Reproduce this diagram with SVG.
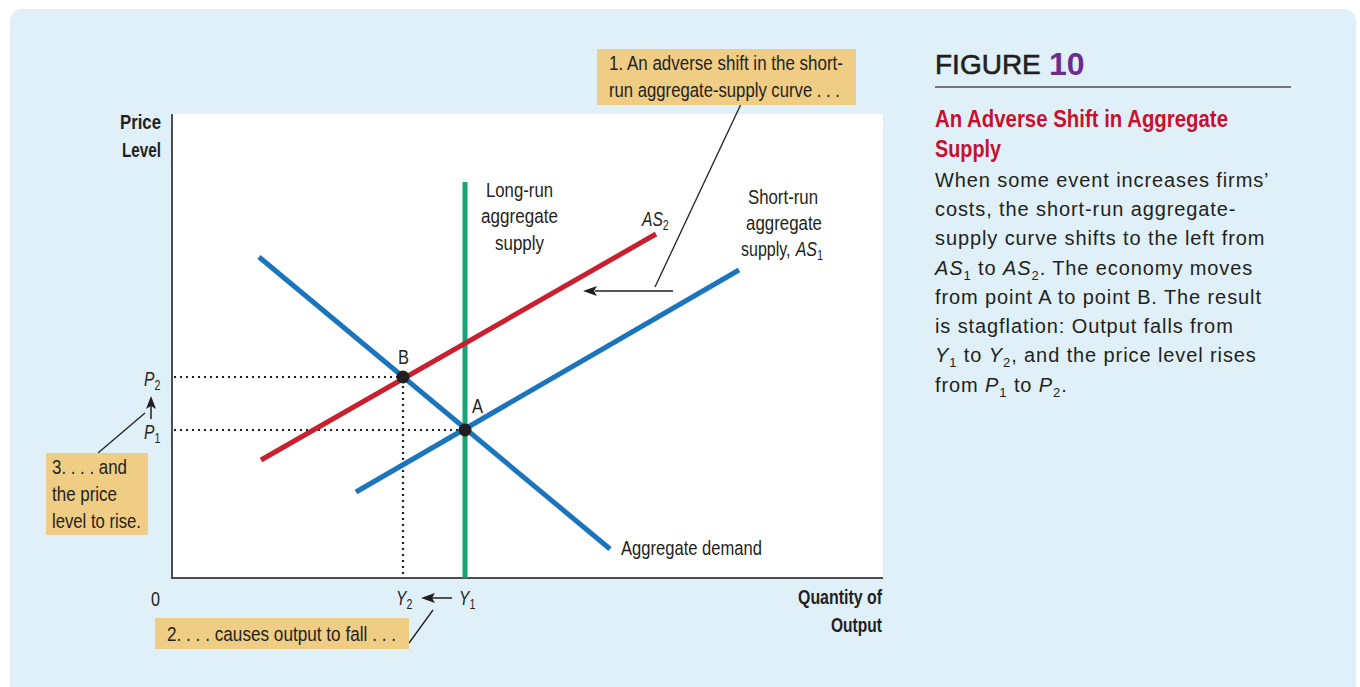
<svg xmlns="http://www.w3.org/2000/svg" width="1360" height="687" viewBox="0 0 1360 687">
<style>
.c{font-family:"Liberation Sans",Arial,sans-serif;fill:#231f20;font-size:20.5px}
.cb{font-weight:bold}
.b{font-family:"Liberation Sans",Arial,sans-serif;fill:#231f20;font-size:20px;letter-spacing:0.9px}
.i{font-style:italic}
.sub{font-size:14px;font-style:normal}
.box{fill:#f0cd85}
.lead{stroke:#231f20;stroke-width:1.3;fill:none}
.dot{stroke:#231f20;stroke-width:2.2;stroke-dasharray:2 4;fill:none}
</style>
<rect x="10" y="9" width="1346" height="690" rx="12" fill="#dff0f9"/>
<rect x="172" y="114" width="711" height="464" fill="#ffffff"/>
<g id="axes">
<path d="M172,114 V578 H883" stroke="#4d4d4f" stroke-width="2" fill="none"/>
</g>
<g id="connectors">
<path class="dot" d="M174,377 H403 M174,430 H465 M403,380 V578"/>
<line x1="673" y1="291" x2="595" y2="291" stroke="#231f20" stroke-width="1.5"/>
<path d="M583,291 L597,286 L594,291 L597,296 Z" fill="#231f20"/>
<line x1="151" y1="419" x2="151" y2="405" stroke="#231f20" stroke-width="1.5"/>
<path d="M151,396 L146,409 L151,406 L156,409 Z" fill="#231f20"/>
<line x1="452" y1="598" x2="432" y2="598" stroke="#231f20" stroke-width="1.5"/>
<path d="M421,598 L435,593 L432,598 L435,603 Z" fill="#231f20"/>
<path class="lead" d="M741,104 L655,287"/>
<path class="lead" d="M98,453 L145,413"/>
<path class="lead" d="M409,643 L433,610"/>
</g>
<g id="lras">
<line x1="465" y1="182" x2="465" y2="578" stroke="#17a673" stroke-width="5"/>
<text class="c" x="486" y="197" textLength="67" lengthAdjust="spacingAndGlyphs">Long-run</text>
<text class="c" x="481" y="223" textLength="77" lengthAdjust="spacingAndGlyphs">aggregate</text>
<text class="c" x="495" y="250" textLength="49" lengthAdjust="spacingAndGlyphs">supply</text>
</g>
<g id="ad">
<line x1="259" y1="257" x2="610" y2="549" stroke="#1a75bc" stroke-width="5"/>
<text class="c" x="621" y="555" textLength="141" lengthAdjust="spacingAndGlyphs">Aggregate demand</text>
</g>
<g id="as1">
<line x1="356" y1="492" x2="739" y2="270" stroke="#1a75bc" stroke-width="5"/>
<text class="c" x="748" y="204" textLength="70" lengthAdjust="spacingAndGlyphs">Short-run</text>
<text class="c" x="746" y="230" textLength="76" lengthAdjust="spacingAndGlyphs">aggregate</text>
<text class="c" transform="translate(741,256) scale(0.78,1)">supply, <tspan class="i" dx="1">AS</tspan><tspan class="sub" dy="4">1</tspan></text>
</g>
<g id="as2">
<line x1="261" y1="460" x2="656" y2="234" stroke="#c8202f" stroke-width="5"/>
<text class="c" transform="translate(642,226) scale(0.76,1)"><tspan class="i">AS</tspan><tspan class="sub" dy="4">2</tspan></text>
</g>
<g id="pointB">
<circle cx="403" cy="377" r="6.5" fill="#231f20"/>
<text class="c" x="398" y="364" textLength="11" lengthAdjust="spacingAndGlyphs">B</text>
</g>
<g id="pointA">
<circle cx="465" cy="430" r="6.5" fill="#231f20"/>
<text class="c" x="472" y="413" textLength="11" lengthAdjust="spacingAndGlyphs">A</text>
</g>
<g id="axisLabels">
<text class="c cb" x="120" y="129" textLength="41" lengthAdjust="spacingAndGlyphs">Price</text>
<text class="c cb" x="122" y="157" textLength="39" lengthAdjust="spacingAndGlyphs">Level</text>
<text class="c cb" x="798" y="604" textLength="84" lengthAdjust="spacingAndGlyphs">Quantity of</text>
<text class="c cb" x="831" y="632" textLength="51" lengthAdjust="spacingAndGlyphs">Output</text>
<text class="c" x="151" y="606" textLength="9" lengthAdjust="spacingAndGlyphs">0</text>
<text class="c" transform="translate(144,386) scale(0.76,1)"><tspan class="i">P</tspan><tspan class="sub" dy="4">2</tspan></text>
<text class="c" transform="translate(144,439) scale(0.76,1)"><tspan class="i">P</tspan><tspan class="sub" dy="4">1</tspan></text>
<text class="c" transform="translate(396,605) scale(0.76,1)"><tspan class="i">Y</tspan><tspan class="sub" dy="4">2</tspan></text>
<text class="c" transform="translate(459,605) scale(0.76,1)"><tspan class="i">Y</tspan><tspan class="sub" dy="4">1</tspan></text>
</g>
<g id="note1">
<rect class="box" x="597" y="49" width="259" height="56"/>
<text class="c" x="609" y="70" textLength="234" lengthAdjust="spacingAndGlyphs">1. An adverse shift in the short-</text>
<text class="c" x="609" y="97" textLength="231" lengthAdjust="spacingAndGlyphs">run aggregate-supply curve . . .</text>
</g>
<g id="note2">
<rect class="box" x="155" y="618" width="254" height="31"/>
<text class="c" x="167" y="641" textLength="229" lengthAdjust="spacingAndGlyphs">2. . . . causes output to fall . . .</text>
</g>
<g id="note3">
<rect class="box" x="46" y="453" width="102" height="82"/>
<text class="c" x="52" y="474" textLength="75" lengthAdjust="spacingAndGlyphs">3. . . . and</text>
<text class="c" x="52" y="501" textLength="65" lengthAdjust="spacingAndGlyphs">the price</text>
<text class="c" x="52" y="528" textLength="89" lengthAdjust="spacingAndGlyphs">level to rise.</text>
</g>
<g id="caption">
<text x="935" y="74" font-family="'Liberation Sans',Arial,sans-serif" font-size="28" fill="#231f20" stroke="#231f20" stroke-width="0.6">FIGURE</text>
<text x="1049" y="75" font-family="'Liberation Sans',Arial,sans-serif" font-size="32" font-weight="bold" fill="#6a2c91">10</text>
<line x1="935" y1="87" x2="1291" y2="87" stroke="#4d4d4f" stroke-width="1.5"/>
<text class="c cb" x="935" y="127" style="fill:#c8102e;font-size:23px" textLength="293" lengthAdjust="spacingAndGlyphs">An Adverse Shift in Aggregate</text>
<text class="c cb" x="935" y="157" style="fill:#c8102e;font-size:23px" textLength="66" lengthAdjust="spacingAndGlyphs">Supply</text>
<text class="b">
<tspan x="935" y="187">When some event increases firms’</tspan>
<tspan x="935" y="216">costs, the short-run aggregate-</tspan>
<tspan x="935" y="245">supply curve shifts to the left from</tspan>
<tspan x="935" y="275" class="i">AS</tspan><tspan font-size="13" dy="5">1</tspan><tspan dy="-5"> to </tspan><tspan class="i">AS</tspan><tspan font-size="13" dy="5">2</tspan><tspan dy="-5">. The economy moves</tspan>
<tspan x="935" y="304">from point A to point B. The result</tspan>
<tspan x="935" y="333">is stagflation: Output falls from</tspan>
<tspan x="935" y="362" class="i">Y</tspan><tspan font-size="13" dy="5">1</tspan><tspan dy="-5"> to </tspan><tspan class="i">Y</tspan><tspan font-size="13" dy="5">2</tspan><tspan dy="-5">, and the price level rises</tspan>
<tspan x="935" y="392">from </tspan><tspan class="i">P</tspan><tspan font-size="13" dy="5">1</tspan><tspan dy="-5"> to </tspan><tspan class="i">P</tspan><tspan font-size="13" dy="5">2</tspan><tspan dy="-5">.</tspan>
</text>
</g>
</svg>
